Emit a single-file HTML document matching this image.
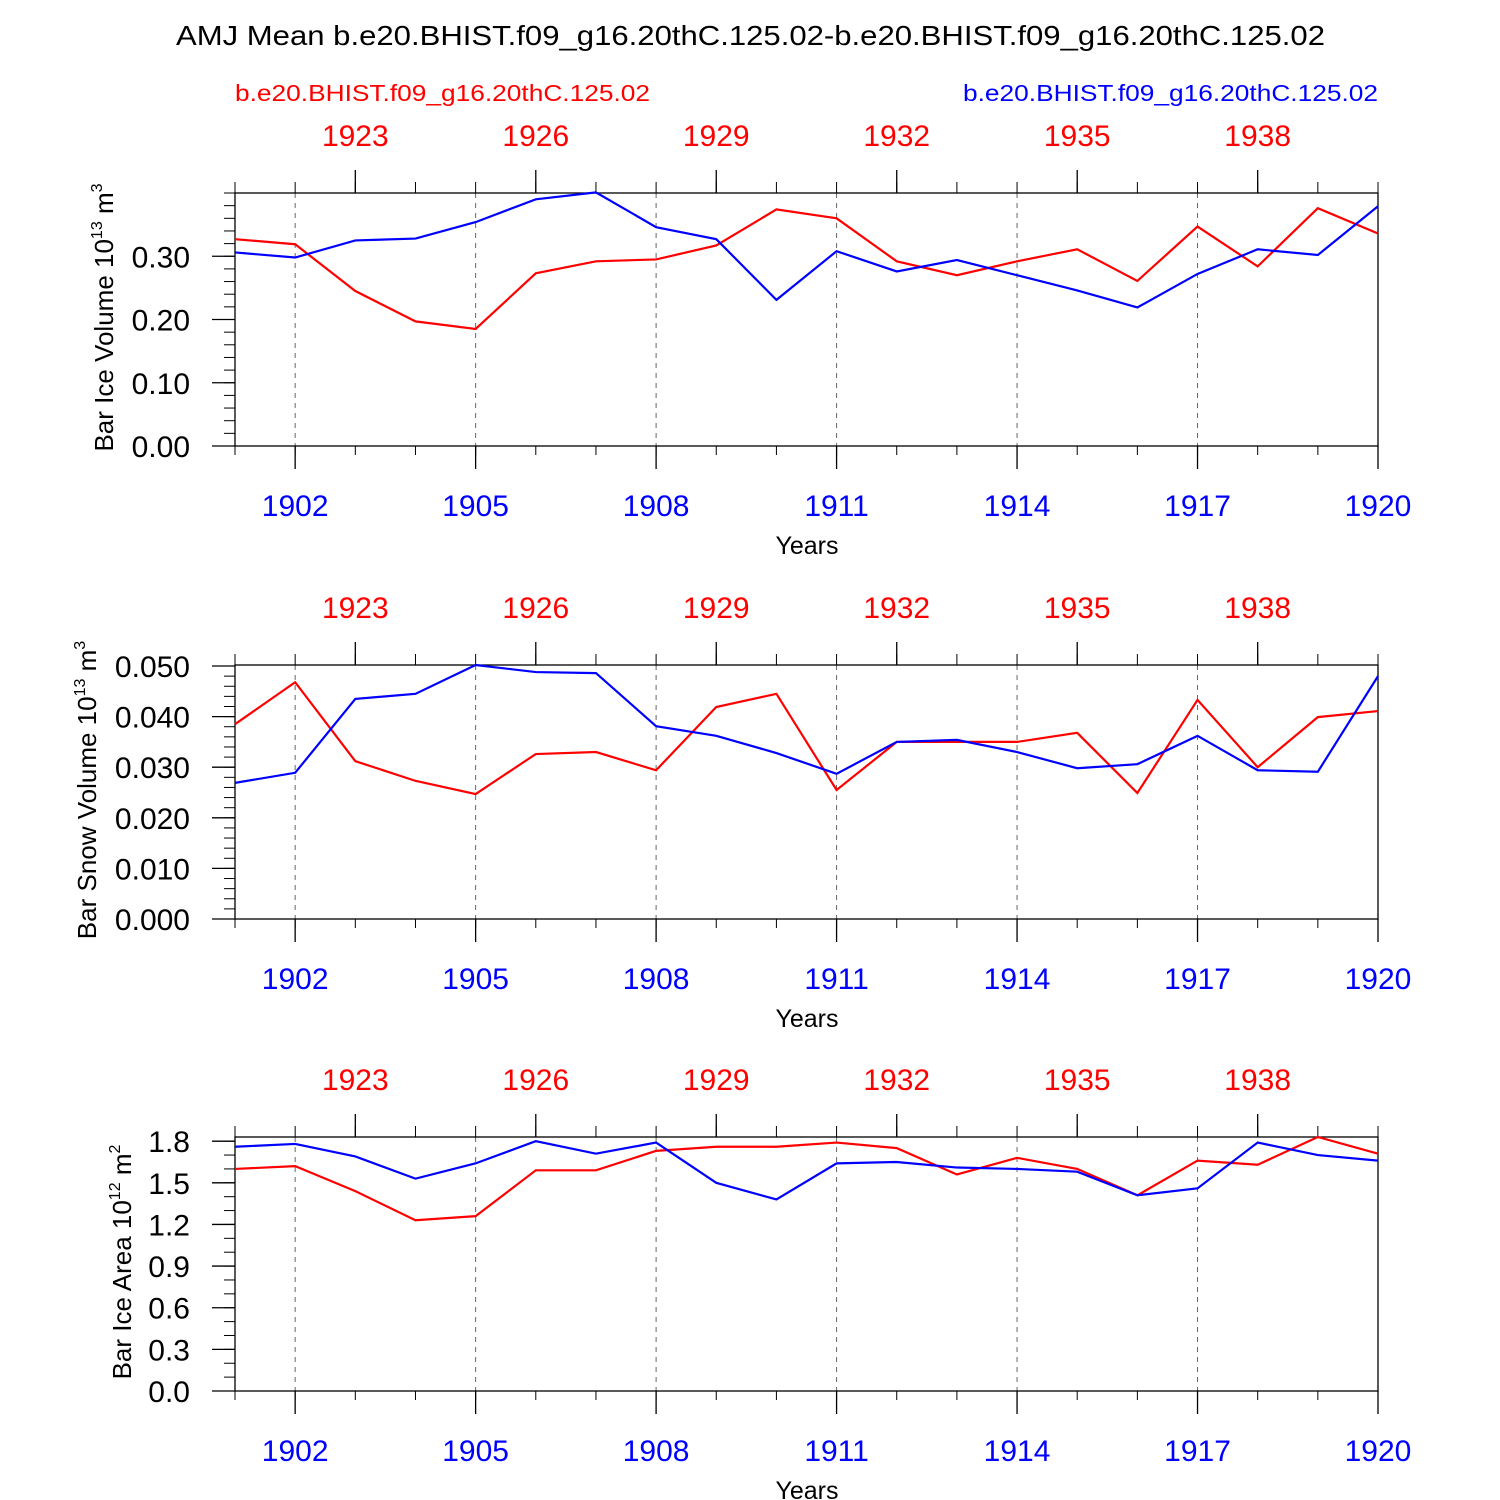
<!DOCTYPE html>
<html><head><meta charset="utf-8"><style>
body{margin:0;background:#fff}
svg{display:block;font-family:"Liberation Sans",sans-serif}
</style></head><body>
<svg id="c" width="1500" height="1500" viewBox="0 0 1500 1500">
<text x="176" y="45" font-size="28" textLength="1149" lengthAdjust="spacingAndGlyphs">AMJ Mean b.e20.BHIST.f09_g16.20thC.125.02-b.e20.BHIST.f09_g16.20thC.125.02</text>
<text x="235" y="101" font-size="23" fill="#f00" textLength="415" lengthAdjust="spacingAndGlyphs">b.e20.BHIST.f09_g16.20thC.125.02</text>
<text x="963" y="101" font-size="23" fill="#00f" textLength="415" lengthAdjust="spacingAndGlyphs">b.e20.BHIST.f09_g16.20thC.125.02</text>
</svg>
<script>
const years=[1901,1902,1903,1904,1905,1906,1907,1908,1909,1910,1911,1912,1913,1914,1915,1916,1917,1918,1919,1920];
const iceVolRed=[0.327,0.319,0.245,0.197,0.185,0.273,0.292,0.295,0.317,0.374,0.360,0.292,0.270,0.292,0.311,0.261,0.347,0.284,0.376,0.336];
const iceVolBlue=[0.306,0.298,0.325,0.328,0.354,0.390,0.401,0.346,0.327,0.231,0.308,0.276,0.294,0.270,0.246,0.219,0.272,0.311,0.302,0.379];
const snowRed=[0.0385,0.0468,0.0312,0.0273,0.0247,0.0326,0.0330,0.0294,0.0419,0.0445,0.0255,0.0350,0.0350,0.0350,0.0368,0.0249,0.0433,0.0300,0.0399,0.0411];
const snowBlue=[0.0269,0.0289,0.0435,0.0445,0.0502,0.0488,0.0486,0.0381,0.0362,0.0328,0.0287,0.0350,0.0354,0.0330,0.0298,0.0306,0.0362,0.0294,0.0291,0.0480];
const areaRed=[1.60,1.62,1.44,1.23,1.26,1.59,1.59,1.73,1.76,1.76,1.79,1.75,1.56,1.68,1.60,1.41,1.66,1.63,1.83,1.71];
const areaBlue=[1.76,1.78,1.69,1.53,1.64,1.80,1.71,1.79,1.50,1.38,1.64,1.65,1.61,1.60,1.58,1.41,1.46,1.79,1.70,1.66];
const bottomTicks=[1902,1905,1908,1911,1914,1917,1920];
const topTicks=[1923,1926,1929,1932,1935,1938];
const yTicks1=["0.00","0.10","0.20","0.30"];
const yTicks2=["0.000","0.010","0.020","0.030","0.040","0.050"];
const yTicks3=["0.0","0.3","0.6","0.9","1.2","1.5","1.8"];
const NS="http://www.w3.org/2000/svg";
const svg=document.getElementById('c');
const X0=235,X1=1378;
function xs(y){return X0+(y-1901)*(X1-X0)/19;}
function mk(t,a,p){const e=document.createElementNS(NS,t);for(const k in a)e.setAttribute(k,a[k]);(p||svg).appendChild(e);return e;}
function panel(top,bot,ymax,ticks,minorStep,title,sup,unit,red,blue,name,titleX){
  const g=mk('g',{});
  
  
  const ys=v=>bot-v*(bot-top)/ymax;
  bottomTicks.forEach(y=>{if(y<1920){const l=mk('line',{x1:xs(y),x2:xs(y),y1:top,y2:bot,stroke:'#666','stroke-width':1,'stroke-dasharray':'5,5'},g);}});
  for(let v=0;v<=ymax+1e-9;v+=minorStep){mk('line',{x1:X0-11,x2:X0,y1:ys(v),y2:ys(v),stroke:'#000','stroke-width':1},g);}
  ticks.forEach(t=>{const v=parseFloat(t);mk('line',{x1:X0-23,x2:X0,y1:ys(v),y2:ys(v),stroke:'#000','stroke-width':1.3},g);
    const tx=mk('text',{x:X0-45,y:ys(v)+11,'font-size':30,'text-anchor':'end'},g);tx.textContent=t;
    });
  years.forEach(y=>{mk('line',{x1:xs(y),x2:xs(y),y1:bot,y2:bot+9,stroke:'#000'},g);mk('line',{x1:xs(y),x2:xs(y),y1:top,y2:top-11,stroke:'#000'},g);});
  bottomTicks.forEach(y=>{mk('line',{x1:xs(y),x2:xs(y),y1:bot,y2:bot+23,stroke:'#000','stroke-width':1.3},g);
    const tx=mk('text',{x:xs(y),y:bot+70,'font-size':30,'text-anchor':'middle',fill:'#00f'},g);tx.textContent=y;
    });
  topTicks.forEach(y=>{const yy=y-20;mk('line',{x1:xs(yy),x2:xs(yy),y1:top,y2:top-23,stroke:'#000','stroke-width':1.3},g);
    const tx=mk('text',{x:xs(yy),y:top-47,'font-size':30,'text-anchor':'middle',fill:'#f00'},g);tx.textContent=y;
    });
  mk('rect',{x:X0,y:top,width:X1-X0,height:bot-top,fill:'none',stroke:'#000','stroke-width':1.3},g);
  const xt=mk('text',{x:807,y:bot+108,'font-size':25,'text-anchor':'middle'},g);xt.textContent='Years';
  
  const cy=(top+bot)/2-2;
  const yt=mk('text',{x:0,y:0,'font-size':26,'text-anchor':'middle',transform:`translate(${titleX},${cy}) rotate(-90)`},g);
  yt.innerHTML=`${title} 10<tspan font-size="16" dy="-11">${sup}</tspan><tspan dy="11"> ${unit}</tspan><tspan font-size="16" dy="-11">${name=='panel-ice-area'?'2':'3'}</tspan>`;
  
  [[red,'#f00','red-line'],[blue,'#00f','blue-line']].forEach(([d,c,n])=>{
    const p=mk('polyline',{points:d.map((v,i)=>xs(years[i])+','+ys(v)).join(' '),fill:'none',stroke:c,'stroke-width':2.2},g);
    });
}
panel(193,446,0.4,yTicks1,0.02,'Bar Ice Volume','13','m',iceVolRed,iceVolBlue,'panel-ice-volume',113);
panel(665,919,0.0502,yTicks2,0.002,'Bar Snow Volume','13','m',snowRed,snowBlue,'panel-snow-volume',96);
panel(1137,1391,1.83,yTicks3,0.1,'Bar Ice Area','12','m',areaRed,areaBlue,'panel-ice-area',131);
</script>
</body></html>
